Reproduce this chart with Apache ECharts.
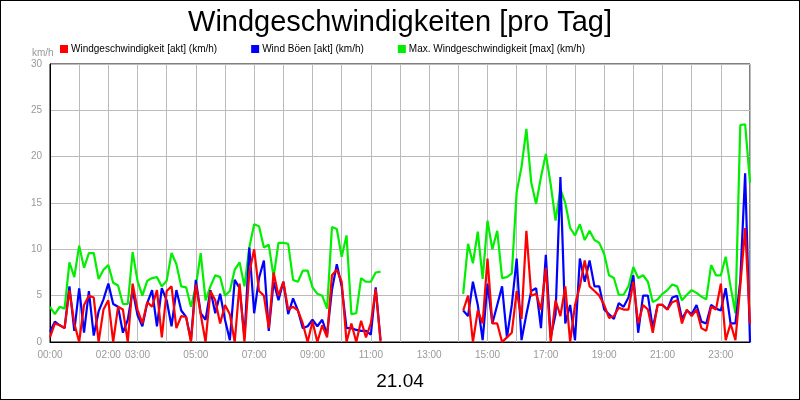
<!DOCTYPE html>
<html>
<head>
<meta charset="utf-8">
<script src="https://cdn.jsdelivr.net/npm/echarts@6/dist/echarts.min.js"></script>
<style>
  html, body { margin: 0; padding: 0; background: #fff; }
  #chart { width: 798px; height: 398px; border: 1px solid #000; }
</style>
</head>
<body>
<div id="chart"></div>
<script>
// 10-minute samples from 00:00 to 24:00 (145 values), null = no data
const gap = new Array(16).fill(null);

const windAkt = [
  0.5, 2.0, 1.8, 1.5, 5.6, 2.0, 0, 4.0, 5.0, 4.8, 0, 3.5, 4.5, 0, 3.8, 3.5, 0, 6.3, 3.5, 2.0,
  4.3, 3.8, 5.6, 0.5, 5.5, 6.0, 1.5, 2.8, 2.7, 0, 6.2, 3.0, 0, 5.5, 4.5, 2.0, 4.0, 3.0, 0, 6.3,
  0, 7.5, 10.0, 5.5, 5.0, 1.5, 7.5, 5.0, 6.5, 3.5, 3.8, 3.4, 2.0, 0, 2.2, 0, 1.8, 0.5, 7.2, 7.8,
  6.5, 0, 2.0, 0, 2.3, 0.5, 2.0, 5.7, 0,
  ...gap,
  3.4, 5.0, 0, 3.4, 2.0, 9.0, 2.0, 2.0, 0, 0.5, 1.0, 5.5, 2.5, 12.0, 5.0, 5.2, 3.5, 8.0, 0, 4.5,
  2.8, 6.0, 0, 4.0, 6.0, 8.8, 6.0, 5.5, 5.0, 4.0, 2.6,
  2.8, 3.7, 3.5, 3.5, 6.5, 2.0, 4.0, 3.5, 1.0, 4.0, 4.0, 3.5, 4.3, 4.5, 2.0, 3.5, 2.8, 3.5, 1.5, 1.2,
  3.8, 3.5, 6.3, 0.2, 2.0, 0.2, 6.0, 12.3, 2.0
];

const windBoeen = [
  1.1, 2.2, 1.8, 1.5, 6.0, 1.2, 5.8, 1.0, 5.5, 0.7, 3.3, 4.6, 6.3, 4.1, 3.8, 1.0, 2.4, 5.6, 2.9, 1.7,
  4.2, 5.6, 1.7, 5.8, 4.5, 1.7, 5.6, 3.4, 2.7, 0.2, 6.7, 3.1, 2.4, 5.6, 3.1, 5.2, 2.4, 0.2, 6.7, 5.8,
  0.5, 10.2, 3.1, 6.9, 8.8, 1.2, 6.5, 4.5, 6.5, 3.0, 4.7, 3.4, 1.5, 1.7, 2.4, 1.7, 2.4, 0.8, 5.6, 8.4,
  6.0, 1.5, 1.5, 1.3, 1.2, 1.2, 0.8, 5.9, 0.2,
  ...gap,
  3.4, 2.8, 6.5, 4.0, 0.2, 6.3, 2.0, 4.0, 6.0, 0.5, 4.0, 9.0, 0.2, 3.0, 5.5, 5.8, 1.5, 9.4, 0.5, 3.0,
  17.8, 2.0, 4.0, 0.2, 9.0, 6.5, 8.8, 6.0, 6.0, 3.5, 3.0,
  2.5, 4.2, 3.8, 4.8, 7.2, 1.0, 5.0, 5.0, 1.5, 4.0, 4.0, 3.5, 4.8, 5.0, 2.5, 3.4, 3.0, 4.0, 2.2, 2.0,
  4.0, 3.6, 3.4, 5.8, 2.0, 2.0, 6.6, 18.2, 0
];

const windMax = [
  3.8, 3.0, 3.8, 3.6, 8.6, 7.0, 10.4, 8.0, 9.6, 9.6, 6.8, 7.8, 8.3, 6.4, 6.1, 4.1, 4.1, 9.7, 6.6, 5.0,
  6.6, 6.9, 7.0, 6.0, 6.6, 9.6, 8.4, 6.0, 5.9, 3.8, 6.0, 9.6, 4.5, 6.0, 7.2, 7.0, 5.0, 5.5, 7.8, 8.6,
  6.0, 10.2, 12.7, 12.5, 10.2, 10.5, 7.0, 10.7, 10.7, 10.6, 6.7, 6.5, 7.7, 7.7, 5.9, 5.2, 5.0, 3.6, 12.4, 12.2,
  9.2, 11.5, 3.0, 3.1, 6.9, 6.5, 6.5, 7.5, 7.6,
  ...gap,
  5.2, 10.6, 8.5, 11.9, 6.8, 13.1, 10.0, 12.0, 6.9, 7.0, 7.4, 16.2, 18.9, 23.0, 17.2, 14.9, 17.8, 20.3, 17.0, 13.1,
  16.5, 15.0, 12.3, 11.5, 12.7, 11.0, 12.0, 11.0, 10.7, 9.5, 7.2,
  6.9, 5.1, 5.1, 6.0, 8.1, 6.9, 7.2, 6.5, 4.3, 4.6, 5.2, 5.6, 6.2, 6.0, 4.5, 5.1, 5.6, 5.3, 4.9, 4.6,
  8.3, 7.2, 7.2, 9.2, 6.0, 3.1, 23.4, 23.5, 17.2
];

const labelHours = [0, 2, 3, 5, 7, 9, 11, 13, 15, 17, 19, 21, 23];
const names = [
  'Windgeschwindigkeit [akt] (km/h)',
  'Wind Böen [akt] (km/h)',
  'Max. Windgeschwindigkeit [max] (km/h)'
];

const pairs = arr => arr.map((v, i) => [i / 6, v]);
const pad = n => (n < 10 ? '0' : '') + n;
const font = 'Liberation Sans';

const chart = echarts.init(document.getElementById('chart'));
chart.setOption({
  animation: false,
  textStyle: { fontFamily: font },
  title: [
    { text: 'Windgeschwindigkeiten [pro Tag]', left: 'center', top: 2,
      textStyle: { fontSize: 29, fontWeight: 'normal', color: '#000', fontFamily: font } },
    { text: '21.04', left: 'center', top: 366,
      textStyle: { fontSize: 19, fontWeight: 'normal', color: '#000', fontFamily: font } },
    { text: 'km/h', left: 26, top: 42,
      textStyle: { fontSize: 10, fontWeight: 'normal', color: '#999', fontFamily: font } }
  ],
  legend: {
    top: 38, left: 54, itemWidth: 8, itemHeight: 8, itemGap: 34, icon: 'rect',
    data: names,
    textStyle: { fontSize: 10, color: '#000', padding: [0, 0, 0, -2] }
  },
  grid: { left: 49, right: 49, top: 63, bottom: 57, show: true, borderColor: '#000', borderWidth: 1 },
  xAxis: {
    type: 'value', min: 0, max: 24, interval: 1,
    axisLine: { lineStyle: { color: '#000' } },
    axisTick: { show: false },
    splitLine: { lineStyle: { color: '#bbb' } },
    axisLabel: {
      color: '#999', fontSize: 10, hideOverlap: false,
      formatter: v => (labelHours.includes(v) ? pad(v) + ':00' : '')
    }
  },
  yAxis: {
    type: 'value', min: 0, max: 30, interval: 5,
    axisLine: { show: true, lineStyle: { color: '#000' } },
    axisTick: { show: false },
    splitLine: { lineStyle: { color: '#bbb' } },
    axisLabel: { color: '#999', fontSize: 10 }
  },
  series: [
    { name: names[2], type: 'line', data: pairs(windMax), showSymbol: false,
      lineStyle: { width: 2.2, color: '#00ee00' }, itemStyle: { color: '#00ee00' } },
    { name: names[1], type: 'line', data: pairs(windBoeen), showSymbol: false,
      lineStyle: { width: 2.2, color: '#0000ff' }, itemStyle: { color: '#0000ff' } },
    { name: names[0], type: 'line', data: pairs(windAkt), showSymbol: false,
      lineStyle: { width: 2.2, color: '#ff0000' }, itemStyle: { color: '#ff0000' } }
  ]
});
</script>
</body>
</html>
